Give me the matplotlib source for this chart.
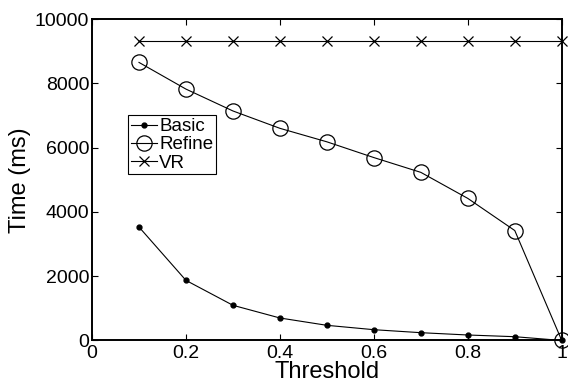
import matplotlib
matplotlib.use("Agg")
import matplotlib.pyplot as plt

plt.rcParams['font.family'] = ['Liberation Sans', 'DejaVu Sans']

thresholds = [0.1, 0.2, 0.3, 0.4, 0.5, 0.6, 0.7, 0.8, 0.9, 1.0]
basic = [3530, 1870, 1095, 700, 472, 336, 243, 171, 118, 0]
refine = [8650, 7820, 7140, 6600, 6180, 5690, 5230, 4420, 3420, 0]
vr = [9330] * 10
xticks = [0, 0.2, 0.4, 0.6, 0.8, 1]
xticklabels = ['0', '0.2', '0.4', '0.6', '0.8', '1']
yticks = [0, 2000, 4000, 6000, 8000, 10000]

fig = plt.figure(figsize=(5.68, 3.85), dpi=100)
ax = fig.add_axes([0.162, 0.1156, 0.827, 0.835])

ax.plot(thresholds, basic, color='black', lw=0.8, marker='o', ms=3.5, label='Basic', clip_on=False, zorder=3)
ax.plot(thresholds, refine, color='black', lw=0.8, marker='o', ms=11, mfc='none', mew=0.9, label='Refine', clip_on=False, zorder=3)
ax.plot(thresholds, vr, color='black', lw=0.8, marker='x', ms=7.5, mew=0.9, label='VR', clip_on=False, zorder=3)

ax.set_xlim(0, 1)
ax.set_ylim(0, 10000)
ax.set_xticks(xticks)
ax.set_xticklabels(xticklabels)
ax.set_yticks(yticks)
ax.tick_params(direction='in', top=True, right=True, labelsize=14, length=4, width=0.8)
ax.tick_params(axis='x', pad=3)
ax.tick_params(axis='y', pad=2)
for s in ax.spines.values():
    s.set_linewidth(1.4)
ax.set_xlabel('Threshold', fontsize=17, labelpad=-0.5)
ax.set_ylabel('Time (ms)', fontsize=17, labelpad=3)

leg = ax.legend(loc='upper left', bbox_to_anchor=(0.077, 0.70), fontsize=13.5,
                frameon=True, fancybox=False, edgecolor='black', framealpha=1,
                handlelength=1.4, handletextpad=0.1, borderpad=0.15, labelspacing=0.05,
                borderaxespad=0)
leg.get_frame().set_linewidth(0.8)

fig.savefig('out.png', dpi=100)
